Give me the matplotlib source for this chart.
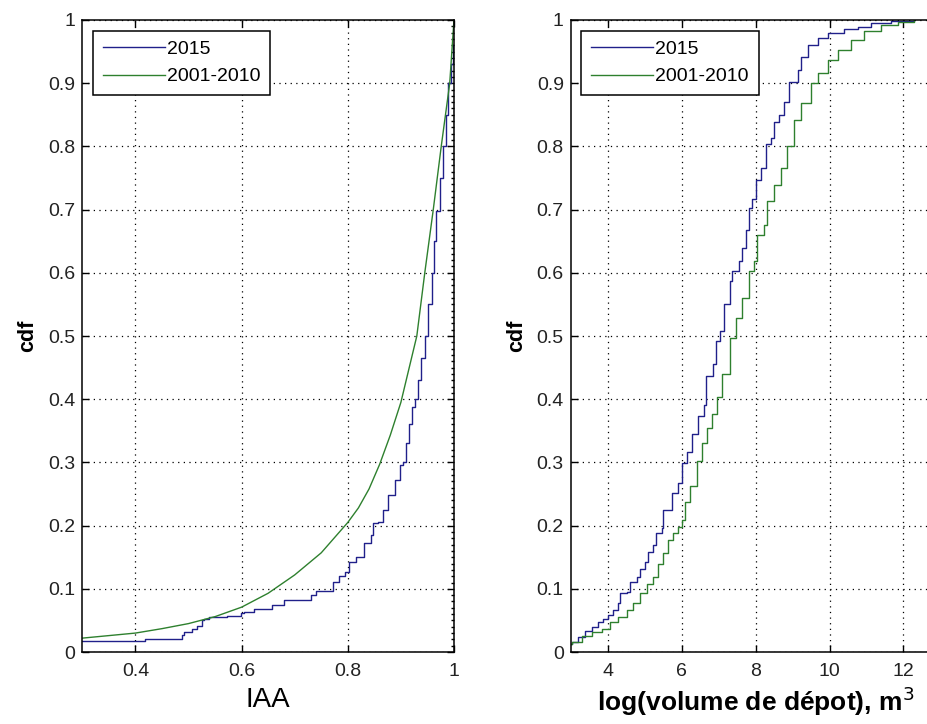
import matplotlib
matplotlib.use("Agg")
import matplotlib.pyplot as plt
from matplotlib.ticker import MultipleLocator

plt.rcParams['font.family'] = ['Liberation Sans', 'DejaVu Sans']

# left panel: IAA
iaa_2015_x = [0.300, 0.419, 0.488, 0.491, 0.507, 0.516, 0.526, 0.529, 0.538, 0.573,
              0.598, 0.604, 0.623, 0.658, 0.680, 0.731, 0.740, 0.772, 0.784, 0.795,
              0.803, 0.816, 0.831, 0.844, 0.847, 0.857, 0.866, 0.876, 0.888, 0.898,
              0.904, 0.910, 0.915, 0.920, 0.927, 0.932, 0.938, 0.945, 0.951, 0.958,
              0.963, 0.967, 0.973, 0.980, 0.985, 0.989, 0.994, 0.999, 1.000]
iaa_2015_y = [0.018, 0.020, 0.027, 0.031, 0.036, 0.041, 0.050, 0.053, 0.055, 0.057,
              0.061, 0.064, 0.068, 0.074, 0.082, 0.090, 0.097, 0.111, 0.120, 0.127,
              0.143, 0.151, 0.172, 0.185, 0.204, 0.206, 0.225, 0.248, 0.272, 0.296,
              0.301, 0.330, 0.360, 0.388, 0.401, 0.430, 0.465, 0.500, 0.550, 0.600,
              0.650, 0.697, 0.750, 0.800, 0.850, 0.900, 0.930, 0.960, 0.960]

iaa_ref_x = [0.30, 0.35, 0.40, 0.45, 0.50, 0.55, 0.60, 0.65, 0.70, 0.75, 0.80, 0.82,
             0.84, 0.86, 0.88, 0.90, 0.91, 0.93, 0.945, 0.961, 0.976, 0.992, 1.0]
iaa_ref_y = [0.022, 0.026, 0.030, 0.037, 0.045, 0.056, 0.071, 0.093, 0.122, 0.157, 0.205, 0.228,
             0.258, 0.297, 0.343, 0.395, 0.430, 0.500, 0.600, 0.700, 0.800, 0.900, 1.0]

# right panel: log deposit volume
vol_2015_x = [3.00, 3.03, 3.21, 3.39, 3.57, 3.75, 3.88, 4.00, 4.15, 4.29, 4.33, 4.51,
              4.60, 4.78, 4.87, 5.01, 5.10, 5.23, 5.32, 5.46, 5.50, 5.73, 5.91, 6.00,
              6.14, 6.27, 6.43, 6.61, 6.66, 6.84, 6.92, 7.05, 7.14, 7.32, 7.37, 7.55,
              7.64, 7.73, 7.82, 7.91, 8.00, 8.14, 8.27, 8.41, 8.50, 8.63, 8.77, 8.91,
              9.14, 9.23, 9.41, 9.68, 9.95, 10.40, 10.76, 11.12, 11.66, 12.29]
vol_2015_y = [0.012, 0.016, 0.024, 0.034, 0.040, 0.048, 0.053, 0.058, 0.066, 0.077, 0.093, 0.095,
              0.111, 0.119, 0.132, 0.143, 0.159, 0.169, 0.188, 0.196, 0.225, 0.251, 0.267, 0.299,
              0.317, 0.345, 0.374, 0.391, 0.437, 0.455, 0.492, 0.508, 0.550, 0.587, 0.603, 0.618,
              0.640, 0.668, 0.703, 0.716, 0.747, 0.766, 0.803, 0.813, 0.839, 0.850, 0.871, 0.902,
              0.921, 0.942, 0.960, 0.971, 0.979, 0.985, 0.989, 0.996, 0.999, 1.000]

vol_ref_x = [3.00, 3.03, 3.30, 3.57, 3.84, 4.06, 4.29, 4.51, 4.69, 4.87, 5.05, 5.23,
             5.37, 5.50, 5.64, 5.77, 5.91, 6.00, 6.09, 6.23, 6.41, 6.54, 6.69, 6.83,
             6.96, 7.10, 7.32, 7.46, 7.64, 7.82, 7.95, 8.05, 8.23, 8.32, 8.50, 8.68,
             8.86, 9.05, 9.23, 9.50, 9.68, 9.95, 10.22, 10.58, 10.94, 11.39, 11.84, 12.29]
vol_ref_y = [0.012, 0.016, 0.026, 0.032, 0.037, 0.048, 0.056, 0.066, 0.077, 0.093, 0.108, 0.119,
             0.140, 0.156, 0.177, 0.188, 0.198, 0.209, 0.238, 0.262, 0.302, 0.331, 0.355, 0.376,
             0.403, 0.440, 0.497, 0.529, 0.560, 0.603, 0.618, 0.660, 0.676, 0.713, 0.739, 0.766,
             0.800, 0.842, 0.868, 0.900, 0.916, 0.937, 0.953, 0.968, 0.982, 0.992, 0.997, 1.000]

labels = ['2015', '2001-2010']
y_ticks = [0, 0.1, 0.2, 0.3, 0.4, 0.5, 0.6, 0.7, 0.8, 0.9, 1.0]
y_ticklabels = ['0', '0.1', '0.2', '0.3', '0.4', '0.5', '0.6', '0.7', '0.8', '0.9', '1']
blue = '#20208a'
green = '#2e802e'

fig = plt.figure(figsize=(9.28, 7.24), dpi=100)
ax1 = fig.add_axes([0.0887, 0.0994, 0.4005, 0.873])
ax2 = fig.add_axes([0.615, 0.0994, 0.3984, 0.873])


def style(ax):
    ax.set_ylim(0, 1)
    ax.set_yticks(y_ticks)
    ax.set_yticklabels(y_ticklabels)
    ax.grid(True, color='black', linestyle=(0, (1, 3.5)), linewidth=0.9)
    ax.tick_params(direction='in', top=True, right=True, length=5, width=1,
                   labelsize=14, labelcolor='#222222')
    ax.tick_params(axis='y', pad=5)
    ax.tick_params(axis='x', pad=8)
    for sp in ax.spines.values():
        sp.set_linewidth(1.1)
    ax.set_ylabel('cdf', fontsize=15.5, fontweight='bold', labelpad=7)
    leg = ax.legend(labels, loc='upper left', fontsize=14, handlelength=3.2,
                    handletextpad=0.1, labelspacing=0.5, borderaxespad=0.55,
                    borderpad=0.5, fancybox=False, framealpha=1, edgecolor='black')
    leg.get_frame().set_linewidth(1.1)


ax1.plot(iaa_2015_x, iaa_2015_y, color=blue, lw=1.0, drawstyle='steps-post')
ax1.plot(iaa_ref_x, iaa_ref_y, color=green, lw=1.0)
ax1.set_xlim(0.3, 1.0)
ax1.set_xticks([0.4, 0.6, 0.8, 1.0])
ax1.set_xticklabels(['0.4', '0.6', '0.8', '1'])
style(ax1)
ax1.yaxis.set_minor_locator(MultipleLocator(0.01))
ax1.tick_params(which='minor', direction='in', left=False, right=True, length=2.5, width=1)
ax1.set_xlabel('IAA', fontsize=20, labelpad=5)

ax2.plot(vol_2015_x, vol_2015_y, color=blue, lw=1.0, drawstyle='steps-post')
ax2.plot(vol_ref_x, vol_ref_y, color=green, lw=1.0, drawstyle='steps-post')
ax2.set_xlim(3, 13)
ax2.set_xticks([4, 6, 8, 10, 12])
style(ax2)
ax2.set_xlabel('log(volume de dépot), m$^3$', fontsize=19, fontweight='bold', labelpad=3)

fig.savefig('out.png', dpi=100)
